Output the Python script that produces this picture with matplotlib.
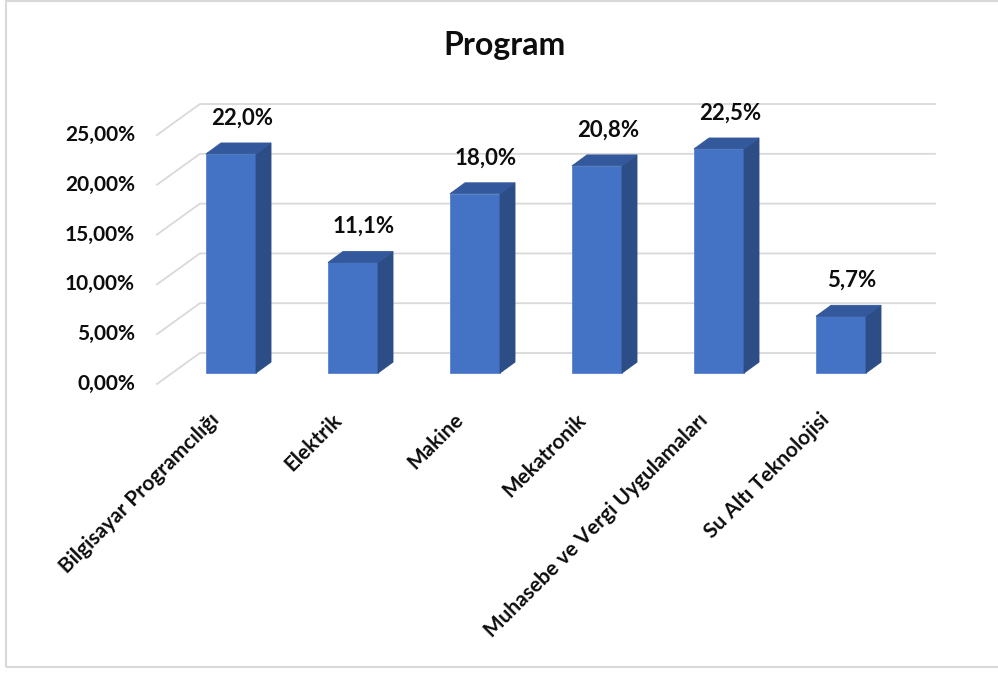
import matplotlib
matplotlib.use("Agg")
import matplotlib.pyplot as plt
from matplotlib.patches import Polygon, Rectangle

plt.rcParams['font.family'] = ['Lato', 'DejaVu Sans']
plt.rcParams['font.weight'] = 'bold'

# Data
categories = ['Bilgisayar Programcılığı', 'Elektrik', 'Makine', 'Mekatronik',
              'Muhasebe ve Vergi Uygulamaları', 'Su Altı Teknolojisi']
values = [22.0, 11.1, 18.0, 20.8, 22.5, 5.7]
ticks = [0, 5, 10, 15, 20, 25]
title = 'Program'

# Colors
front_col = '#4472c4'
side_col = '#2c4d86'
top_col = '#33589b'
grid_col = '#d9d9d9'
text_col = '#0d0d0d'

# 3D look (data units)
depth_dx, depth_dy = 0.352, 3.11     # full floor depth
bar_dx, bar_dy = 0.123, 1.1          # bar depth
bar_base = 1.1                       # bars sit partway into the depth
bar_w = 0.41
wall_left = -0.607
wall_right = 5.77

W, H = 998, 673
fig = plt.figure(figsize=(W / 100, H / 100), dpi=100)

# axes placed in pixels; 1 category = 122 px, 1 % = 9.96 px
px_l, px_r, px_t, px_b = 140, 945, 90, 395
ax = fig.add_axes([px_l / W, 1 - px_b / H, (px_r - px_l) / W, (px_b - px_t) / H])
ax.set_xlim((px_l - 231) / 122, (px_r - 231) / 122)
ax.set_ylim((384 - px_b) / 9.96, (384 - px_t) / 9.96)
ax.axis('off')

# gridlines: diagonal on the left wall + horizontal on the back wall
for t in ticks:
    ax.plot([wall_left, wall_left + depth_dx, wall_right],
            [t, t + depth_dy, t + depth_dy],
            color=grid_col, lw=1.3, zorder=1, clip_on=False)
    ax.text(wall_left - 0.18, t, f"{t:.2f}".replace('.', ',') + '%',
            ha='right', va='center', fontsize=15, color=text_col, clip_on=False)

# bars
for i, v in enumerate(values):
    x0 = i - bar_w / 2
    x1 = i + bar_w / 2
    y0 = bar_base
    y1 = bar_base + v
    ax.add_patch(Rectangle((x0, y0), bar_w, v, facecolor=front_col,
                           edgecolor='#5a84cf', lw=0.6, zorder=3))
    ax.add_patch(Polygon([(x1, y0), (x1 + bar_dx, y0 + bar_dy),
                          (x1 + bar_dx, y1 + bar_dy), (x1, y1)],
                         closed=True, facecolor=side_col, edgecolor=side_col,
                         lw=0.6, zorder=3))
    ax.add_patch(Polygon([(x0, y1), (x0 + bar_dx, y1 + bar_dy),
                          (x1 + bar_dx, y1 + bar_dy), (x1, y1)],
                         closed=True, facecolor=top_col, edgecolor=top_col,
                         lw=0.6, zorder=3))
    ax.text(i + 0.09, y1 + 3.6, f"{v:.1f}".replace('.', ',') + '%',
            ha='center', va='center', fontsize=16, color=text_col, zorder=4)
    ax.text(i - 0.06, -2.6, categories[i], rotation=45, ha='right', va='top',
            fontsize=15, color=text_col, clip_on=False)

fig.text(505 / W, 1 - 45 / H, title, ha='center', va='center',
         fontsize=23, color=text_col)

# chart border (right edge lies outside the picture)
fig.patches.append(Rectangle((6 / W, 1 - 667 / H), 1.5, (667 - 1) / H,
                             transform=fig.transFigure, fill=False,
                             edgecolor='#d9d9d9', lw=1.5))

fig.savefig('out.png', dpi=100, facecolor='white')
